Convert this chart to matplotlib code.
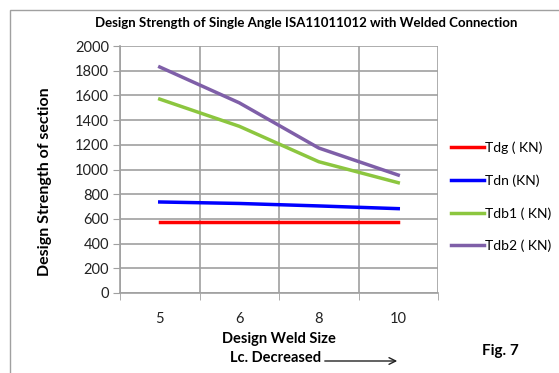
import matplotlib
matplotlib.use("Agg")
import matplotlib.pyplot as plt
from matplotlib.patches import Rectangle, FancyArrowPatch

weld_size = ["5", "6", "8", "10"]
tdg = [578, 578, 578, 578]
tdn = [737, 725, 705, 683]
tdb1 = [1570, 1350, 1063, 893]
tdb2 = [1830, 1540, 1174, 955]

series = [("Tdg ( KN)", tdg, "#ff0000"),
          ("Tdn (KN)", tdn, "#0000ff"),
          ("Tdb1 ( KN)", tdb1, "#8cc63f"),
          ("Tdb2 ( KN)", tdb2, "#7f5fa8")]

plt.rcParams['font.family'] = ['Lato', 'DejaVu Sans']

fig = plt.figure(figsize=(5.59, 3.73), dpi=100)
fig.patches.append(Rectangle((10/559, -0.1), 1.0, 1 - 10/373 + 0.1, transform=fig.transFigure,
                             fill=False, edgecolor="#a0a0a0", lw=1.0))
ax = fig.add_axes([120/559, 1 - 293/373, 318/559, 247/373])

x = list(range(len(weld_size)))
handles = []
for name, vals, col in series:
    h, = ax.plot(x, vals, color=col, lw=2.5, label=name)
    handles.append(h)

ax.set_xlim(-0.5, 3.5)
ax.set_ylim(0, 2000)
ax.set_yticks(range(0, 2001, 200))
ax.set_xticks(x)
ax.set_xticklabels(weld_size)
ax.set_xticks([-0.5, 0.5, 1.5, 2.5, 3.5], minor=True)
ax.grid(True, axis="y", color="#a0a0a0", lw=1.2)
ax.grid(True, axis="x", which="minor", color="#a0a0a0", lw=1.2)
ax.set_axisbelow(True)
for s in ["top", "right"]:
    ax.spines[s].set_visible(False)
for s in ["left", "bottom"]:
    ax.spines[s].set_color("#a0a0a0")
    ax.spines[s].set_linewidth(1.2)
ax.tick_params(axis="y", length=5, color="#a0a0a0", labelsize=10.5, pad=3, labelcolor="#222222")
ax.tick_params(axis="x", which="major", length=0, labelsize=10.5, pad=14, labelcolor="#222222")
ax.tick_params(axis="x", which="minor", length=5, color="#a0a0a0")

ax.set_ylabel("Design Strength of section", fontsize=11.5, fontweight="bold")
ax.yaxis.set_label_coords(-0.215, 0.45)
ax.set_xlabel("Design Weld Size", fontsize=10.5, fontweight="bold", labelpad=4)

fig.text(306/559, 1 - 23/373, "Design Strength of Single Angle ISA11011012 with Welded Connection",
         ha="center", va="center", fontsize=9.5, fontweight="bold")
fig.text(276/559, 1 - 358/373, "Lc. Decreased", ha="center", va="center", fontsize=10.5, fontweight="bold")
fig.add_artist(FancyArrowPatch((322/559, 1 - 361/373), (400/559, 1 - 361/373),
               transform=fig.transFigure, arrowstyle="->", mutation_scale=12, lw=1, color="#222222"))
fig.text(500/559, 1 - 351/373, "Fig. 7", ha="center", va="center", fontsize=11, fontweight="bold")

fig.legend(handles=handles, loc="upper left", bbox_to_anchor=(441/559, 1 - 132/373), frameon=False,
           fontsize=10, handlelength=2.4, handletextpad=0.1, labelspacing=1.45, borderpad=0.2)

fig.savefig("out.png", dpi=100)
